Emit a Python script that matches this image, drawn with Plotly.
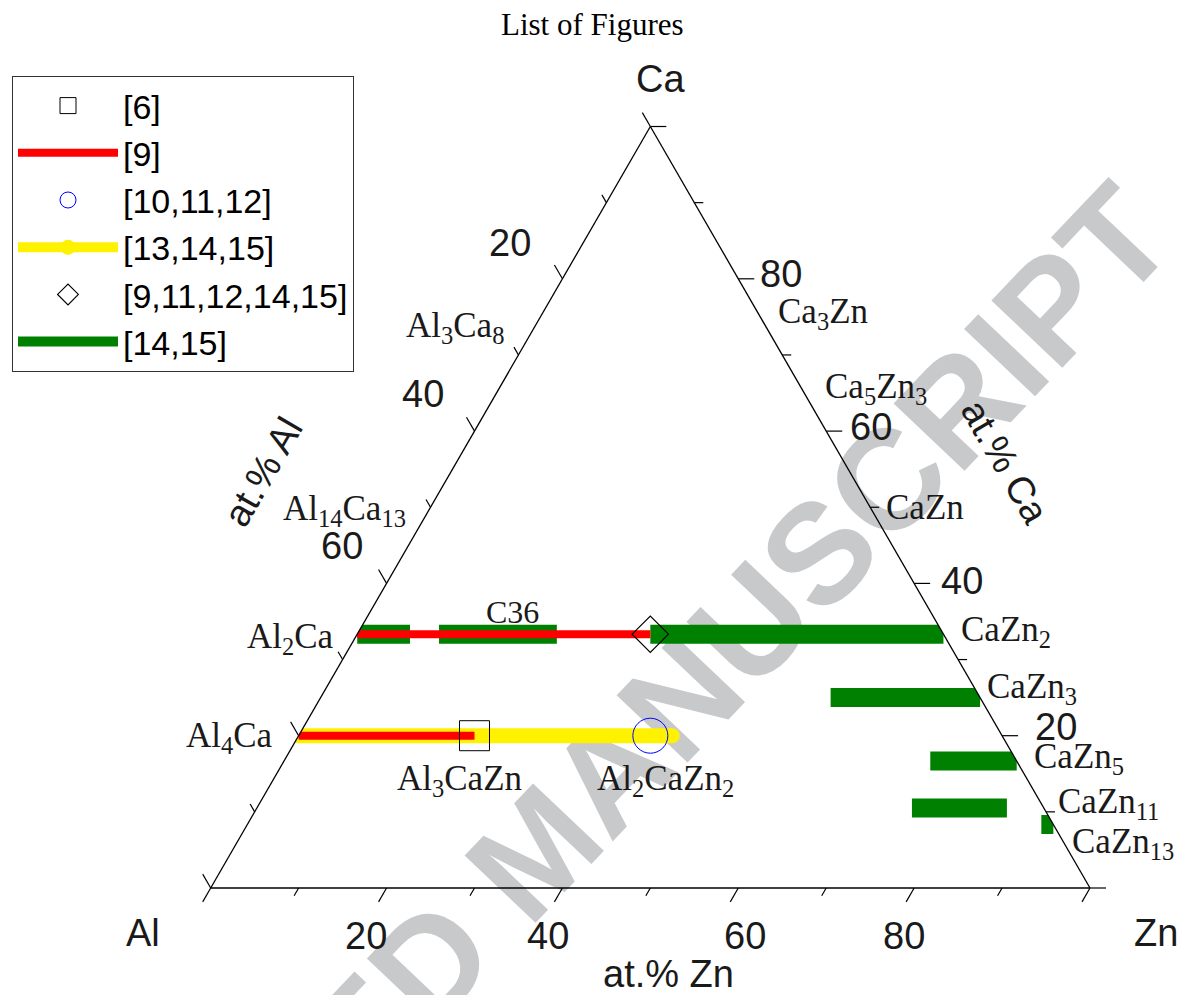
import numpy as np
import plotly.graph_objects as go

# ---------------- data: at.% Ca and at.% Zn (Al = 100 - Ca - Zn) ----------------
# [6] square : Al3CaZn
sq_ca = [20.0]
sq_zn = [20.0]
# [9] red lines
red_ca = [33.33, 33.33, None, 20.0, 20.0]
red_zn = [0.0, 33.33, None, 0.0, 20.0]
# [10,11,12] circle : Al2CaZn2
ci_ca = [20.0]
ci_zn = [40.0]
# [13,14,15] yellow line
yel_ca = [20.0, 20.0]
yel_zn = [0.0, 42.5]
# [9,11,12,14,15] diamond
di_ca = [33.33]
di_zn = [33.33]
# [14,15] green bars
grn_ca = [33.33, 33.33, None, 33.33, 33.33, None, 33.33, 33.33, None,
          25.0, 25.0, None, 16.67, 16.67, None, 10.5, 10.5, None, 8.33, 8.33]
grn_zn = [0.0, 6.0, None, 9.3, 22.7, None, 33.33, 66.67, None,
          58.0, 75.0, None, 73.5, 83.33, None, 74.5, 85.3, None, 90.3, 91.67]

# phase labels (composition they refer to)
phase_names = ["Al<sub>3</sub>Ca<sub>8</sub>", "Al<sub>14</sub>Ca<sub>13</sub>",
               "Al<sub>2</sub>Ca", "Al<sub>4</sub>Ca", "C36",
               "Al<sub>3</sub>CaZn", "Al<sub>2</sub>CaZn<sub>2</sub>",
               "Ca<sub>3</sub>Zn", "Ca<sub>5</sub>Zn<sub>3</sub>", "CaZn",
               "CaZn<sub>2</sub>", "CaZn<sub>3</sub>", "CaZn<sub>5</sub>",
               "CaZn<sub>11</sub>", "CaZn<sub>13</sub>"]
phase_ca = [72.73, 48.15, 33.33, 20.0, 33.33, 20.0, 20.0,
            75.0, 62.5, 50.0, 33.33, 25.0, 16.67, 8.33, 7.14]
phase_zn = [0.0, 0.0, 0.0, 0.0, 17.7, 20.0, 40.0,
            25.0, 37.5, 50.0, 66.67, 75.0, 83.33, 91.67, 92.86]

# axis ticks and tick labels
tick_vals = [0, 10, 20, 30, 40, 50, 60, 70, 80, 90, 100]
al_labels = [20, 40, 60]
ca_labels = [80, 60, 40, 20]
zn_labels = [20, 40, 60, 80]

# ---------------- layout constants (page pixels) ----------------
W, H = 1181, 995
SIDE = 879.3                     # triangle side in px
X0, Y0 = 210.7, 888.0            # Al corner in px
TRI_H = SIDE * np.sqrt(3) / 2

SANS = "Liberation Sans"
SERIF = "Liberation Serif"
INK = "#1a1a1a"


def al_of(ca, zn):
    return [None if (x is None or y is None) else 100.0 - x - y for x, y in zip(ca, zn)]


def to_px(ca, zn):
    """Position of a composition on the page (used for guides and labels only)."""
    return X0 + (zn + ca / 2.0) / 100.0 * SIDE, Y0 - ca / 100.0 * TRI_H


def paper(x, y):
    return x / W, 1 - y / H


fig = go.Figure()

# ---------------- data traces ----------------
fig.add_trace(go.Scatterternary(
    a=yel_ca, b=al_of(yel_ca, yel_zn), c=yel_zn, mode="lines+markers",
    name="[13,14,15]", legendrank=4,
    line=dict(color="#fff200", width=15),
    marker=dict(symbol="circle", size=15, color="#fff200", line=dict(width=0)),
    hoverinfo="skip"))

fig.add_trace(go.Scatterternary(
    a=grn_ca, b=al_of(grn_ca, grn_zn), c=grn_zn, mode="lines",
    name="[14,15]", legendrank=6, connectgaps=False,
    line=dict(color="#008000", width=19), hoverinfo="skip"))

fig.add_trace(go.Scatterternary(
    a=red_ca, b=al_of(red_ca, red_zn), c=red_zn, mode="lines",
    name="[9]", legendrank=2, connectgaps=False,
    line=dict(color="#ff0000", width=8), hoverinfo="skip"))

fig.add_trace(go.Scatterternary(
    a=sq_ca, b=al_of(sq_ca, sq_zn), c=sq_zn, mode="markers",
    name="[6]", legendrank=1, cliponaxis=False,
    marker=dict(symbol="square-open", size=30, color="black", line=dict(width=1)),
    hoverinfo="skip"))

fig.add_trace(go.Scatterternary(
    a=ci_ca, b=al_of(ci_ca, ci_zn), c=ci_zn, mode="markers",
    name="[10,11,12]", legendrank=3, cliponaxis=False,
    marker=dict(symbol="circle-open", size=35, color="#0000ff", line=dict(width=1)),
    hoverinfo="skip"))

fig.add_trace(go.Scatterternary(
    a=di_ca, b=al_of(di_ca, di_zn), c=di_zn, mode="markers",
    name="[9,11,12,14,15]", legendrank=5, cliponaxis=False,
    marker=dict(symbol="diamond-open", size=28, color="black", line=dict(width=1.2)),
    hoverinfo="skip"))

# ---------------- ticks (counter-clockwise convention) as shapes ----------------
shapes = []
MAJOR, MINOR = 16.0, 9.0
edges = [
    (lambda v: to_px(v, 100.0 - v), (1.0, 0.0)),          # right edge, at.% Ca
    (lambda v: to_px(100.0 - v, 0.0), (-0.5, -0.866)),    # left edge, at.% Al
    (lambda v: to_px(0.0, v), (-0.5, 0.866)),             # bottom edge, at.% Zn
]
for fn, (ux, uy) in edges:
    for v in tick_vals:
        L = MAJOR if v % 20 == 0 else MINOR
        px, py = fn(float(v))
        xa, ya = paper(px, py)
        xb, yb = paper(px + L * ux, py + L * uy)
        shapes.append(dict(type="line", xref="paper", yref="paper",
                           x0=xa, y0=ya, x1=xb, y1=yb, layer="above",
                           line=dict(color="black", width=1.2)))

# watermark
wx, wy = paper(527, 841)
shapes.append(dict(
    type="rect", xref="paper", yref="paper",
    x0=wx - 0.001, x1=wx + 0.001, y0=wy - 0.001, y1=wy + 0.001,
    line=dict(width=0), fillcolor="rgba(0,0,0,0)", layer="below",
    label=dict(text="ACCEPTED MANUSCRIPT", textangle=-46.5,
               textposition="middle center",
               font=dict(family=SANS, size=142, color="#c8c9cb", weight="bold"))))

# ---------------- text ----------------
annotations = []


def add_text(text, x, y, size, family, angle=0, color=INK):
    xp, yp = paper(x, y)
    annotations.append(dict(text=text, x=xp, y=yp, xref="paper", yref="paper",
                            showarrow=False, xanchor="center", yanchor="middle",
                            textangle=angle, font=dict(family=family, size=size, color=color)))


# tick labels
for v, dx, dy in zip(al_labels, [-52, -51, -45], [-36, -37, -37]):
    px, py = to_px(100.0 - v, 0.0)
    add_text(str(v), px + dx, py + dy, 38, SANS)
for v, dx, dy in zip(ca_labels, [43, 45, 48, 54], [-5, -4, -2, -9]):
    px, py = to_px(float(v), 100.0 - v)
    add_text(str(v), px + dx, py + dy, 38, SANS)
for v, dx in zip(zn_labels, [-21, -14, 7, -10]):
    px, py = to_px(0.0, float(v))
    add_text(str(v), px + dx, py + 48, 38, SANS)

# phase labels
phase_dx = [-75, -78, -67, -69, 0, -15, 15, 63, 61, 55, 63, 52, 62, 55, 64]
phase_dy = [-7, -11, 4, 2, -22, 45, 45, -3, -24, 0, -3, -9, -3, -21, 10]
for name, ca, zn, dx, dy in zip(phase_names, phase_ca, phase_zn, phase_dx, phase_dy):
    px, py = to_px(ca, zn)
    add_text(name, px + dx, py + dy, 32 if name == "C36" else 35, SERIF)

# corners, axis titles and page header
cx, cy = to_px(100.0, 0.0)
add_text("Ca", cx + 10, cy - 48, 38, SANS)
cx, cy = to_px(0.0, 0.0)
add_text("Al", cx - 68, cy + 45, 38, SANS)
cx, cy = to_px(0.0, 100.0)
add_text("Zn", cx + 66, cy + 45, 38, SANS)
add_text("at.% Zn", 668, 974, 38, SANS)
add_text("at.% Al", 263, 472, 38, SANS, angle=-60)
add_text("at.% Ca", 1005, 462, 38, SANS, angle=60)
add_text("List of Figures", 592, 25, 31, SERIF, color="black")

# ---------------- layout ----------------
axis_common = dict(showline=True, linecolor="black", linewidth=1.3, showgrid=False,
                   ticks="", showticklabels=False, title=dict(text=""), min=0)

yc = 1 - (Y0 - TRI_H / 2) / H

fig.update_layout(
    width=W, height=H, autosize=False,
    margin=dict(l=0, r=0, t=0, b=0, autoexpand=False),
    paper_bgcolor="white",
    ternary=dict(
        sum=100,
        domain=dict(x=[X0 / W, (X0 + SIDE) / W], y=[yc - 0.39, yc + 0.39]),
        bgcolor="rgba(0,0,0,0)",
        aaxis=axis_common, baxis=axis_common, caxis=axis_common,
    ),
    showlegend=True,
    legend=dict(x=12 / W, y=1 - 76 / H, xanchor="left", yanchor="top",
                bgcolor="white", bordercolor="#333333", borderwidth=1,
                font=dict(family=SANS, size=34, color="black"),
                itemwidth=100, traceorder="normal", tracegroupgap=0),
    shapes=shapes,
    annotations=annotations,
)

# the page is drawn edge to edge (no default body margin), without the mode bar
fig.write_html("out.html", config={"displayModeBar": False},
               post_script="document.body.style.margin='0';")
